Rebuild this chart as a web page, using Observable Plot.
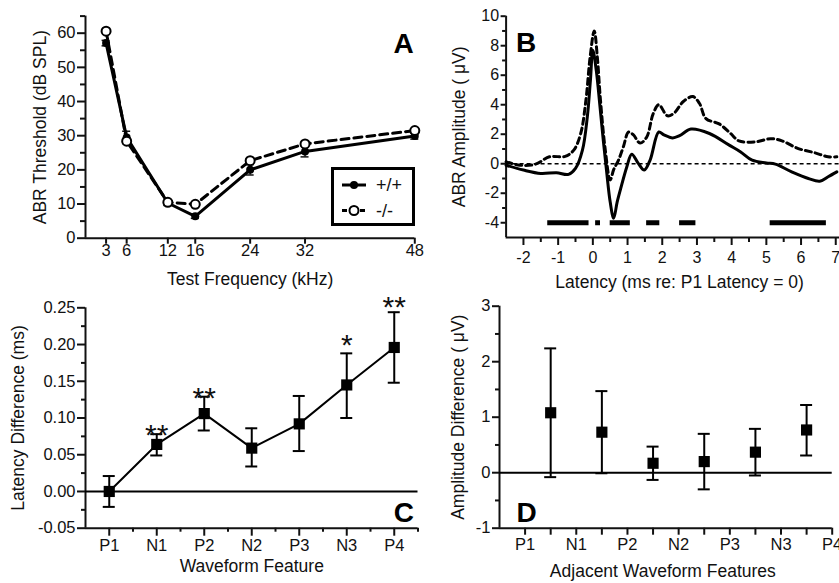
<!DOCTYPE html>
<html><head><meta charset="utf-8">
<script src="https://cdn.jsdelivr.net/npm/d3@7"></script>
<script src="https://cdn.jsdelivr.net/npm/@observablehq/plot@0.6"></script>
<style>
html,body{margin:0;padding:0;background:#fff;overflow:hidden;}
#fig{position:relative;width:839px;height:583px;overflow:hidden;background:#fff;font-family:"Liberation Sans",Arial,sans-serif;}
#legendA{position:absolute;left:331px;top:167px;}
</style></head>
<body><div id="fig"></div>
<script>
// ---------- Panel A data ----------
const freqs = [3, 6, 12, 16, 24, 32, 48];
const wtMean = [57.1, 29.5, 10.3, 6.4, 20.0, 25.4, 29.9];
const wtSem  = [0.8, 1.8, 0.7, 0.6, 1.5, 1.6, 0.9];
const koMean = [60.6, 28.4, 10.5, 9.9, 22.7, 27.6, 31.5];
const koSem  = [0.6, 1.2, 0.6, 0.6, 0.8, 0.7, 0.6];
const aYTicks = [0, 10, 20, 30, 40, 50, 60];
const aYMinor = [5, 15, 25, 35, 45, 55, 65];
const legendLabels = ["+/+", "-/-"];

// ---------- Panel B data ----------
const wtLatency = [-2.5, -2.0, -1.5, -1.05, -0.7, -0.5, -0.3, -0.16, -0.07, 0.0, 0.1, 0.2, 0.3, 0.4, 0.5, 0.6, 0.7, 0.8, 0.98, 1.12, 1.31, 1.48, 1.65, 1.9, 2.05, 2.3, 2.5, 2.83, 3.36, 3.93, 4.26, 4.59, 5.0, 5.26, 5.73, 6.21, 6.54, 6.78, 7.03];
const wtAmp     = [-0.1, -0.43, -0.66, -0.61, -0.72, -0.32, 0.92, 3.17, 5.65, 7.7, 6.3, 4.0, 1.6, -0.6, -2.6, -3.7, -2.6, -1.7, -0.2, 0.65, 0.02, -0.43, 0.25, 2.15, 1.95, 1.75, 1.9, 2.35, 2.05, 1.26, 0.8, 0.24, 0.05, -0.03, -0.55, -1.0, -1.18, -0.88, -0.55];
const koLatency = [-2.5, -2.1, -1.65, -1.25, -0.8, -0.55, -0.35, -0.2, -0.08, 0.04, 0.13, 0.22, 0.36, 0.5, 0.6, 0.74, 0.88, 1.03, 1.17, 1.36, 1.55, 1.74, 1.9, 2.15, 2.35, 2.6, 2.88, 3.07, 3.26, 3.64, 3.97, 4.21, 4.69, 5.12, 5.45, 5.92, 6.4, 6.78, 7.03];
const koAmp     = [0.13, -0.1, -0.03, 0.47, 0.5, 0.92, 2.05, 4.3, 7.2, 9.0, 7.2, 4.3, 0.9, -1.1, -0.4, 0.25, 1.15, 2.15, 1.95, 1.4, 1.8, 3.4, 4.0, 3.25, 3.45, 4.2, 4.55, 4.1, 3.06, 2.7, 2.05, 1.55, 1.48, 1.7, 1.55, 1.03, 0.74, 0.47, 0.47];
const sigStart = [-1.30, 0.08, 0.50, 1.55, 2.50, 5.11];
const sigEnd   = [-0.11, 0.22, 1.08, 1.93, 2.97, 6.73];
const sigLevel = -4;
const bXTicks = [-2, -1, 0, 1, 2, 3, 4, 5, 6, 7];
const bXMinor = [-1.5, -0.5, 0.5, 1.5, 2.5, 3.5, 4.5, 5.5, 6.5];
const bYTicks = [-4, -2, 0, 2, 4, 6, 8, 10];
const bYMinor = [-3, -1, 1, 3, 5, 7, 9];

// ---------- Panel C data ----------
const features = ["P1", "N1", "P2", "N2", "P3", "N3", "P4"];
const latMean = [0, 0.064, 0.106, 0.059, 0.092, 0.145, 0.196];
const latLow  = [-0.021, 0.049, 0.083, 0.034, 0.055, 0.100, 0.148];
const latHigh = [0.021, 0.078, 0.129, 0.086, 0.130, 0.188, 0.244];
const latSig  = ["", "**", "**", "", "", "*", "**"];
const latSigY = [null, 0.087, 0.138, null, null, 0.21, 0.262];
const cYTicks = [-0.05, 0, 0.05, 0.10, 0.15, 0.20, 0.25];
const cYLabels = ["-0.05", "0.00", "0.05", "0.10", "0.15", "0.20", "0.25"];
const cYMinor = [-0.025, 0.025, 0.075, 0.125, 0.175, 0.225];

// ---------- Panel D data ----------
const ampMean = [1.08, 0.73, 0.17, 0.20, 0.37, 0.77];
const ampLow  = [-0.08, -0.01, -0.13, -0.30, -0.05, 0.31];
const ampHigh = [2.24, 1.47, 0.47, 0.70, 0.79, 1.22];
const dYTicks = [-1, 0, 1, 2, 3];
const dYLabels = ["-1", "0", "1", "2", "3"];
const dYMinor = [-0.5, 0.5, 1.5, 2.5];

const FONT = '"Liberation Sans", Arial, sans-serif';
const INK = "#111";
const fig = document.getElementById("fig");
function place(el, left, top) {
  el.style.position = "absolute";
  el.style.left = left + "px";
  el.style.top = top + "px";
  el.style.maxWidth = "none";
  el.style.overflow = "visible";
  el.style.background = "transparent";
  el.style.fontFamily = FONT;
  el.style.color = INK;
  fig.appendChild(el);
}
const blank = () => "";
const plain = d => String(d);

// ---------- Panel A ----------
const aRows = freqs.map((f, i) => ({f, wt: wtMean[i], wtE: wtSem[i], ko: koMean[i], koE: koSem[i]}));
const plotA = Plot.plot({
  width: 420, height: 292,
  marginLeft: 85, marginRight: 5.7, marginTop: 15.6, marginBottom: 54.3,
  x: {domain: [0, 48]}, y: {domain: [0, 65]},
  marks: [
    Plot.axisY({ticks: aYTicks, tickFormat: plain, tickSize: 8, tickPadding: 2, fontSize: 16.5, label: null, strokeWidth: 2, stroke: INK}),
    Plot.axisY({ticks: aYMinor, tickSize: 5, tickFormat: blank, label: null, strokeWidth: 2, stroke: INK}),
    Plot.axisX({ticks: freqs, tickFormat: plain, tickSize: 6, tickPadding: 0, fontSize: 16.5, label: null, strokeWidth: 2, stroke: INK}),
    Plot.ruleX([0], {strokeWidth: 2, stroke: INK}),
    Plot.ruleY([0], {strokeWidth: 2, stroke: INK}),
    Plot.ruleX(aRows, {x: "f", y1: d => d.wt - d.wtE, y2: d => d.wt + d.wtE, strokeWidth: 1.5}),
    Plot.ruleY(aRows, {x1: "f", x2: "f", y: d => d.wt + d.wtE, insetLeft: -4, insetRight: -4, strokeWidth: 1.5}),
    Plot.ruleY(aRows, {x1: "f", x2: "f", y: d => d.wt - d.wtE, insetLeft: -4, insetRight: -4, strokeWidth: 1.5}),
    Plot.ruleX(aRows, {x: "f", y1: d => d.ko - d.koE, y2: d => d.ko + d.koE, strokeWidth: 1.5}),
    Plot.line(aRows, {x: "f", y: "ko", strokeWidth: 3, strokeDasharray: "8,5", stroke: "black"}),
    Plot.line(aRows, {x: "f", y: "wt", strokeWidth: 3, stroke: "black"}),
    Plot.dot(aRows, {x: "f", y: "wt", r: 4, fill: "black"}),
    Plot.dot(aRows, {x: "f", y: "ko", r: 4.5, fill: "white", stroke: "black", strokeWidth: 2}),
    Plot.text(["Test Frequency (kHz)"], {frameAnchor: "bottom", dy: 47, lineAnchor: "bottom", fontSize: 17.5, fill: INK}),
    Plot.text(["ABR Threshold (dB SPL)"], {frameAnchor: "left", rotate: -90, dx: -45, textAnchor: "middle", lineAnchor: "middle", fontSize: 17.5, fill: INK}),
    Plot.text(["A"], {frameAnchor: "top-right", dx: -1, dy: 37, textAnchor: "end", lineAnchor: "bottom", fontSize: 28, fontWeight: "bold", fill: "black"})
  ]
});
place(plotA, 0, 0);

// Legend for panel A (HTML/SVG overlay)
const lg = d3.create("svg").attr("id", "legendA").attr("width", 84).attr("height", 59)
  .style("font-family", FONT);
lg.append("rect").attr("x", 1.5).attr("y", 1.5).attr("width", 81).attr("height", 56)
  .attr("fill", "white").attr("stroke", "black").attr("stroke-width", 3);
const rows = [18, 43.5];
lg.append("line").attr("x1", 11).attr("x2", 35).attr("y1", rows[0]).attr("y2", rows[0]).attr("stroke", "black").attr("stroke-width", 3);
lg.append("circle").attr("cx", 23).attr("cy", rows[0]).attr("r", 4).attr("fill", "black");
lg.append("line").attr("x1", 11).attr("x2", 35).attr("y1", rows[1]).attr("y2", rows[1]).attr("stroke", "black").attr("stroke-width", 3).attr("stroke-dasharray", "5,4");
lg.append("circle").attr("cx", 23).attr("cy", rows[1]).attr("r", 4.5).attr("fill", "white").attr("stroke", "black").attr("stroke-width", 2);
legendLabels.forEach((t, i) => {
  lg.append("text").attr("x", 45).attr("y", rows[i]).attr("dy", "0.35em").attr("font-size", 18).attr("fill", INK).text(t);
});
fig.appendChild(lg.node());

// ---------- Panel B ----------
const wtWave = wtLatency.map((x, i) => ({x, y: wtAmp[i]}));
const koWave = koLatency.map((x, i) => ({x, y: koAmp[i]}));
const sigRows = sigStart.map((s, i) => ({s, e: sigEnd[i], y: sigLevel}));
const plotB = Plot.plot({
  width: 440, height: 292,
  marginLeft: 85.6, marginRight: 7.4, marginTop: 15.7, marginBottom: 55,
  x: {domain: [-2.5, 7.5]}, y: {domain: [-5, 10]},
  marks: [
    Plot.axisY({ticks: bYTicks, tickFormat: plain, tickSize: 5, tickPadding: 2, fontSize: 16, label: null, strokeWidth: 2, stroke: INK}),
    Plot.axisY({ticks: bYMinor, tickSize: 3.5, tickFormat: blank, label: null, strokeWidth: 2, stroke: INK}),
    Plot.axisX({ticks: bXTicks, tickFormat: plain, tickSize: 8, tickPadding: 6, fontSize: 16, label: null, strokeWidth: 2, stroke: INK}),
    Plot.axisX({ticks: bXMinor, tickSize: 5, tickFormat: blank, label: null, strokeWidth: 2, stroke: INK}),
    Plot.ruleX([-2.5], {strokeWidth: 2, stroke: INK}),
    Plot.ruleY([-5], {strokeWidth: 2, stroke: INK}),
    Plot.ruleY([0], {strokeWidth: 1.5, strokeDasharray: "4,3", stroke: "black"}),
    Plot.line(koWave, {x: "x", y: "y", strokeWidth: 3, strokeDasharray: "6,4", curve: "catmull-rom", stroke: "black"}),
    Plot.line(wtWave, {x: "x", y: "y", strokeWidth: 3, curve: "catmull-rom", stroke: "black"}),
    Plot.ruleY(sigRows, {x1: "s", x2: "e", y: "y", strokeWidth: 5, stroke: "black"}),
    Plot.text(["Latency (ms re: P1 Latency = 0)"], {frameAnchor: "bottom", dy: 50, lineAnchor: "bottom", fontSize: 17.5, fill: INK}),
    Plot.text(["ABR Amplitude ( μV)"], {frameAnchor: "left", rotate: -90, dx: -47, textAnchor: "middle", lineAnchor: "middle", fontSize: 17.5, fill: INK}),
    Plot.text(["B"], {frameAnchor: "top-left", dx: 10, dy: 36, textAnchor: "start", lineAnchor: "bottom", fontSize: 28, fontWeight: "bold", fill: "black"})
  ]
});
place(plotB, 420, 0);

// ---------- Panel C ----------
const cRows = features.map((f, i) => ({pos: i + 1, mean: latMean[i], lo: latLow[i], hi: latHigh[i], sig: latSig[i], sigY: latSigY[i]}));
const plotC = Plot.plot({
  width: 420, height: 291,
  marginLeft: 85, marginRight: 2.5, marginTop: 15.3, marginBottom: 55.3,
  x: {domain: [0.5, 7.5]}, y: {domain: [-0.05, 0.25]},
  marks: [
    Plot.axisY({ticks: cYTicks, tickFormat: d => cYLabels[cYTicks.indexOf(d)], tickSize: 8, tickPadding: 2, fontSize: 16.5, label: null, strokeWidth: 2, stroke: INK}),
    Plot.axisY({ticks: cYMinor, tickSize: 4, tickFormat: blank, label: null, strokeWidth: 2, stroke: INK}),
    Plot.axisX({ticks: cRows.map(d => d.pos), tickFormat: d => features[d - 1], tickSize: 8, tickPadding: 3, fontSize: 16.5, label: null, strokeWidth: 2, stroke: INK}),
    Plot.axisX({ticks: cRows.map(d => d.pos + 0.5), tickSize: 4, tickFormat: blank, label: null, strokeWidth: 2, stroke: INK}),
    Plot.ruleX([0.5], {strokeWidth: 2, stroke: INK}),
    Plot.ruleY([-0.05], {strokeWidth: 2, stroke: INK}),
    Plot.ruleY([0], {strokeWidth: 2, stroke: "black"}),
    Plot.line(cRows, {x: "pos", y: "mean", strokeWidth: 2, stroke: "black"}),
    Plot.ruleX(cRows, {x: "pos", y1: "lo", y2: "hi", strokeWidth: 2, stroke: "black"}),
    Plot.ruleY(cRows, {x1: "pos", x2: "pos", y: "hi", insetLeft: -6, insetRight: -6, strokeWidth: 2, stroke: "black"}),
    Plot.ruleY(cRows, {x1: "pos", x2: "pos", y: "lo", insetLeft: -6, insetRight: -6, strokeWidth: 2, stroke: "black"}),
    Plot.dot(cRows, {x: "pos", y: "mean", symbol: "square", r: 6.3, fill: "black"}),
    Plot.text(cRows.filter(d => d.sig), {x: "pos", y: "sigY", text: "sig", fontSize: 30, dy: 8, fill: INK}),
    Plot.text(["Waveform Feature"], {frameAnchor: "bottom", dy: 44, lineAnchor: "bottom", fontSize: 17.5, fill: INK}),
    Plot.text(["Latency Difference (ms)"], {frameAnchor: "left", rotate: -90, dx: -67, textAnchor: "middle", lineAnchor: "middle", fontSize: 17.5, fill: INK}),
    Plot.text(["C"], {frameAnchor: "bottom-right", dx: -4, dy: -6, textAnchor: "end", lineAnchor: "bottom", fontSize: 28, fontWeight: "bold", fill: "black"})
  ]
});
place(plotC, 0, 292);

// ---------- Panel D ----------
const dRows = ampMean.map((m, i) => ({pos: i + 1.5, mean: m, lo: ampLow[i], hi: ampHigh[i]}));
const plotD = Plot.plot({
  width: 440, height: 291,
  marginLeft: 79, marginRight: 28.3, marginTop: 13.7, marginBottom: 55.3,
  x: {domain: [0.5, 7]}, y: {domain: [-1, 3]},
  marks: [
    Plot.axisY({ticks: dYTicks, tickFormat: d => dYLabels[dYTicks.indexOf(d)], tickSize: 7, tickPadding: 2, fontSize: 16.5, label: null, strokeWidth: 2, stroke: INK}),
    Plot.axisY({ticks: dYMinor, tickSize: 4, tickFormat: blank, label: null, strokeWidth: 2, stroke: INK}),
    Plot.axisX({ticks: features.map((f, i) => i + 1), tickFormat: d => features[d - 1], tickSize: 7, tickPadding: 3, fontSize: 16.5, label: null, strokeWidth: 2, stroke: INK}),
    Plot.axisX({ticks: dRows.map(d => d.pos), tickSize: 7, tickFormat: blank, label: null, strokeWidth: 2, stroke: INK}),
    Plot.ruleX([0.5], {strokeWidth: 2, stroke: INK}),
    Plot.ruleY([-1], {strokeWidth: 2, stroke: INK}),
    Plot.ruleY([0], {strokeWidth: 2, stroke: "black"}),
    Plot.ruleX(dRows, {x: "pos", y1: "lo", y2: "hi", strokeWidth: 2, stroke: "black"}),
    Plot.ruleY(dRows, {x1: "pos", x2: "pos", y: "hi", insetLeft: -6, insetRight: -6, strokeWidth: 2, stroke: "black"}),
    Plot.ruleY(dRows, {x1: "pos", x2: "pos", y: "lo", insetLeft: -6, insetRight: -6, strokeWidth: 2, stroke: "black"}),
    Plot.dot(dRows, {x: "pos", y: "mean", symbol: "square", r: 6.3, fill: "black"}),
    Plot.text(["Adjacent Waveform Features"], {frameAnchor: "bottom", dy: 49, lineAnchor: "bottom", fontSize: 17.5, fill: INK, dx: -3}),
    Plot.text(["Amplitude Difference ( μV)"], {frameAnchor: "left", rotate: -90, dx: -41, textAnchor: "middle", lineAnchor: "middle", fontSize: 17.5, fill: INK}),
    Plot.text(["D"], {frameAnchor: "bottom-left", dx: 17, dy: -6, textAnchor: "start", lineAnchor: "bottom", fontSize: 28, fontWeight: "bold", fill: "black"})
  ]
});
place(plotD, 420, 292);
</script>
</body></html>
